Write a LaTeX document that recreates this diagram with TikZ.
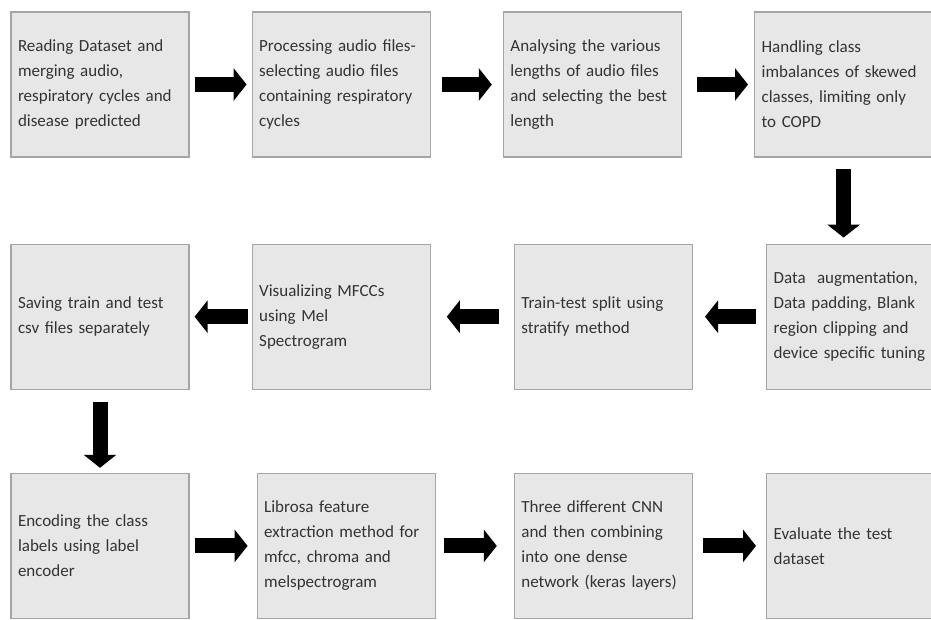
\documentclass[tikz,border=0pt]{standalone}
\usepackage{fontspec}
\setmainfont{Carlito}
\usetikzlibrary{positioning,arrows.meta}
\definecolor{boxfill}{HTML}{E7E7E7}
\definecolor{boxline}{HTML}{A5A5A5}
\definecolor{boxtext}{HTML}{333333}

\begin{document}
\begin{tikzpicture}[
        x=1pt, y=-1pt,
        stage/.style={rectangle, draw=boxline, fill=boxfill, line width=1.2pt, minimum width=178pt, minimum height=145pt, text width=164pt, inner xsep=7pt, inner ysep=0pt, align=left, text=boxtext, font=\fontsize{17}{25}\selectfont},
        flow/.style={draw=black, line width=15pt, -{Triangle[width=32pt,length=13pt]}}
    ]
        \clip (0,0) rectangle (931,619);
        \fill[white] (0,0) rectangle (931,619);

        % Define stages, first row
        \node[stage] (READ) at (100,84.5) {Reading Dataset and\\ merging audio,\\ respiratory cycles and\\ disease predicted};
        \node[stage, right=62pt of READ] (PROC) {Processing audio files-\\ selecting audio files\\ containing respiratory\\ cycles};
        \node[stage, right=72pt of PROC] (LEN) {Analysing the various\\ lengths of audio files\\ and selecting the best\\ length};
        \node[stage, right=72pt of LEN] (COPD) {Handling class\\ imbalances of skewed\\ classes, limiting only\\ to COPD};

        % Second row
        \node[stage, below=86pt of READ] (SAVE) {Saving train and test\\ csv files separately};
        \node[stage, right=62pt of SAVE] (MFCC) {Visualizing MFCCs\\ using Mel\\ Spectrogram};
        \node[stage, right=83pt of MFCC] (SPLIT) {Train-test split using\\ stratify method};
        \node[stage, right=73pt of SPLIT] (AUG) {Data~ augmentation,\\ Data padding, Blank\\ region clipping and\\ device specific tuning};

        % Third row
        \node[stage, below=83pt of SAVE] (ENC) {Encoding the class\\ labels using label\\ encoder};
        \node[stage, right=67pt of ENC] (LIBROSA) {Librosa feature\\ extraction method for\\ mfcc, chroma and\\ melspectrogram};
        \node[stage, right=78pt of LIBROSA] (CNN) {Three different CNN\\ and then combining\\ into one dense\\ network (keras layers)};
        \node[stage, right=73pt of CNN] (EVAL) {Evaluate the test\\ dataset};

        % Arrows
        \draw[flow, shorten <=5pt, shorten >=5pt] (READ) -- (PROC);
        \draw[flow, shorten <=11pt, shorten >=11pt] (PROC) -- (LEN);
        \draw[flow, shorten <=15pt, shorten >=6pt] (LEN) -- (COPD);
        \draw[flow, shorten <=11pt, shorten >=6pt] (COPD.south) -- (COPD.south |- AUG.north);
        \draw[flow, shorten <=10pt, shorten >=12pt] (AUG) -- (SPLIT);
        \draw[flow, shorten <=15pt, shorten >=16pt] (SPLIT) -- (MFCC);
        \draw[flow, shorten <=4pt, shorten >=5pt] (MFCC) -- (SAVE);
        \draw[flow, shorten <=12pt, shorten >=5pt] (SAVE) -- (ENC);
        \draw[flow, shorten <=5pt, shorten >=9pt] (ENC) -- (LIBROSA);
        \draw[flow, shorten <=8pt, shorten >=17pt] (LIBROSA) -- (CNN);
        \draw[flow, shorten <=10pt, shorten >=10pt] (CNN) -- (EVAL);

    \end{tikzpicture}
\end{document}
